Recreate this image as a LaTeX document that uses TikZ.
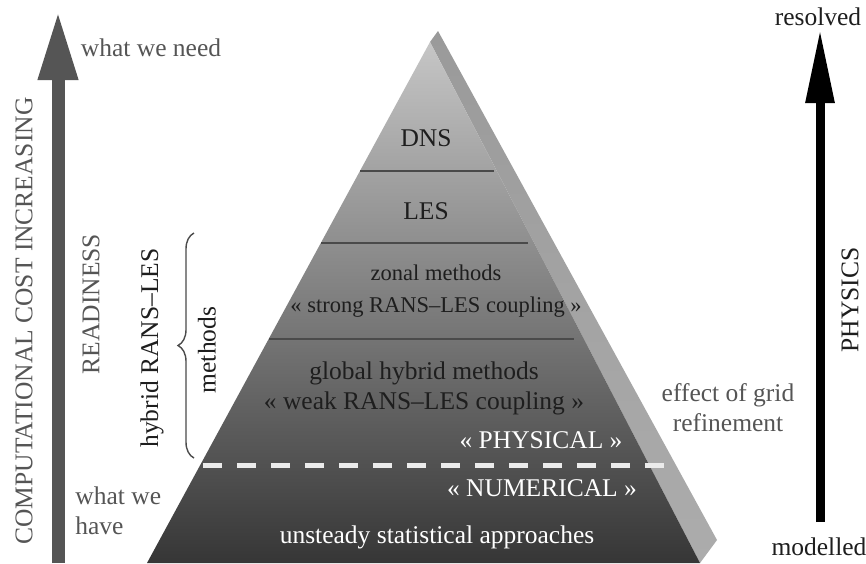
\documentclass[tikz,border=0pt]{standalone}
\usepackage{fontspec}
\setmainfont{Liberation Serif}
\usetikzlibrary{arrows.meta,decorations.pathreplacing}
\definecolor{pyInk}{HTML}{1E1E1E}
\definecolor{pyMuted}{HTML}{555555}
\definecolor{pyTop}{HTML}{C6C6C6}
\definecolor{pyMid}{HTML}{A4A4A4}
\definecolor{pyBot}{HTML}{363636}
\definecolor{pySideTop}{HTML}{9A9A9A}
\definecolor{pySideBot}{HTML}{ACACAC}
\definecolor{pyRule}{HTML}{4A4A4A}
\tikzset{
  py diagram/.style={x={(0.5pt,0)}, y={(0,-0.5pt)},
    font=\fontsize{12.75}{15}\selectfont, text=pyInk},
  py label/.style={inner sep=0pt, align=center},
  py muted/.style={py label, text=pyMuted},
  py light/.style={py label, text=white},
  py small/.style={py label, font=\fontsize{11.25}{16}\selectfont},
  py rule/.style={draw=pyRule, line width=1pt},
  py split/.style={draw=white!92!black, line width=2.5pt,
    dash pattern=on 9.5pt off 7.5pt},
  cost arrow/.style={draw=pyMuted, line width=6.5pt,
    -{Triangle[length=34.5pt,width=18.5pt]}},
  physics arrow/.style={draw=black, line width=4.5pt,
    -{Triangle[length=37pt,width=13.5pt]}},
  py brace/.style={draw=pyInk!80, line width=0.7pt, decorate,
    decoration={brace, amplitude=8pt}}
}
\begin{document}
\begin{tikzpicture}[py diagram]
\fill[white] (0,0) rectangle (866,563);
\useasboundingbox (0,0) rectangle (866,563);
% pyramid
\shade[top color=pySideTop, bottom color=pySideBot]
  (438,31) -- (717,540) -- (700,563) -- (430,42) -- cycle;
\shade[top color=pyTop, middle color=pyMid, bottom color=pyBot]
  (430,42) -- (147,563) -- (700,563) -- cycle;
\foreach \y/\xa/\xb in {171/360/494,243/321/528,339/269/574}
  \draw[py rule] (\xa,\y) -- (\xb,\y);
\draw[py split] (203,465) -- (674,465);
\node[py label] (dns) at (426,138) {DNS};
\node[py label] (les) at (426,211) {LES};
\node[py small] (zonal) at (436,291) {zonal methods\\« strong RANS–LES coupling »};
\node[py label] (global) at (424,388) {global hybrid methods\\« weak RANS–LES coupling »};
\node[py light] (physical) at (541,440) {« PHYSICAL »};
\node[py light] (numerical) at (542,488) {« NUMERICAL »};
\node[py light] (unsteady) at (437,537) {unsteady statistical approaches};
% cost axis
\coordinate (costlow) at (58,563);
\coordinate (costhigh) at (58,11);
\draw[cost arrow] (costlow) -- (costhigh);
\node[py muted] (need) at (151,48) {what we need};
\node[py muted,align=left,anchor=west] (have) at (75,511) {what we\\have};
\node[py muted,rotate=90] (cost) at (24,321) {COMPUTATIONAL COST INCREASING};
\node[py muted,rotate=90] (readiness) at (91,304) {READINESS};
\node[py label,rotate=90] (hybrid) at (152,348) {hybrid RANS–LES};
\node[py label,rotate=90] (methods) at (207,350) {methods};
\coordinate (bracelow) at (194,458);
\coordinate (bracehigh) at (194,233);
\draw[py brace] (bracelow) -- (bracehigh);
% physics axis
\node[py muted] (grid) at (728,408) {effect of grid\\refinement};
\node[py label] (resolved) at (818,17) {resolved};
\node[py label] (modelled) at (819,547) {modelled};
\coordinate (physlow) at (820,522);
\coordinate (physhigh) at (820,29);
\draw[physics arrow] (physlow) -- (physhigh);
\node[py label,rotate=90] (physics) at (850,300) {PHYSICS};
\end{tikzpicture}
\end{document}
